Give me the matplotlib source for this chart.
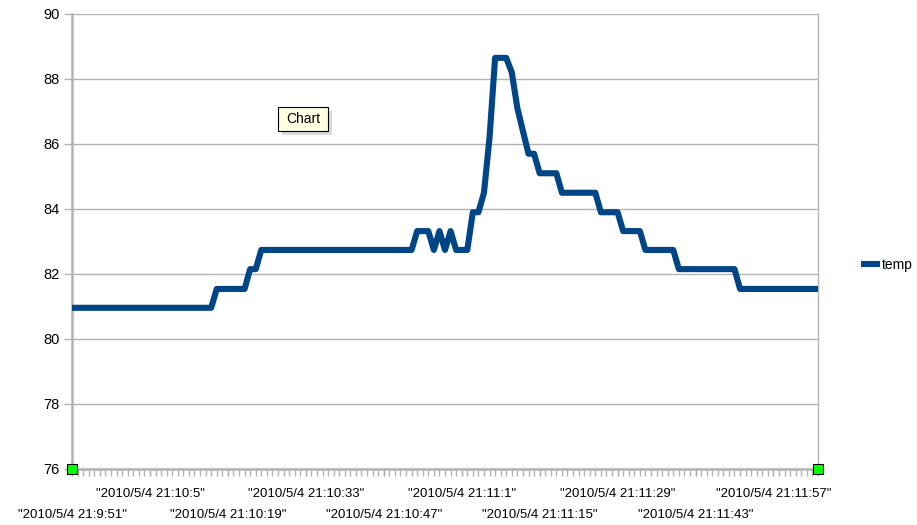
import matplotlib
matplotlib.use("Agg")
import matplotlib.pyplot as plt
import matplotlib.patches as patches

# one reading per second, starting 21:9:51
temp = ([80.96] * 26 + [81.54] * 6 + [82.15] * 2 + [82.74] * 28 +
        [83.32] * 3 + [82.74, 83.32, 82.74, 83.32] + [82.74] * 3 +
        [83.9] * 2 + [84.5, 86.2] + [88.65] * 3 + [88.2, 87.1, 86.4] +
        [85.7] * 2 + [85.1] * 4 + [84.5] * 7 + [83.9] * 4 +
        [83.32] * 4 + [82.74] * 6 + [82.15] * 11 + [81.54] * 15)

tickLabels = ['"2010/5/4 21:9:51"', '"2010/5/4 21:10:5"', '"2010/5/4 21:10:19"',
              '"2010/5/4 21:10:33"', '"2010/5/4 21:10:47"', '"2010/5/4 21:11:1"',
              '"2010/5/4 21:11:15"', '"2010/5/4 21:11:29"', '"2010/5/4 21:11:43"',
              '"2010/5/4 21:11:57"']
labelStep = 14
yTicks = [76, 78, 80, 82, 84, 86, 88, 90]

plt.rcParams['font.family'] = ['Liberation Sans', 'DejaVu Sans']
gridColor = '#b3b3b3'

fig = plt.figure(figsize=(9.17, 5.25), dpi=100)
ax = fig.add_axes([72 / 917, 1 - 469 / 525, (818 - 72) / 917, (469 - 14) / 525])

xs = list(range(len(temp)))
ax.plot(xs, temp, color='#004586', lw=4.4, solid_joinstyle='round',
        solid_capstyle='butt', label='temp', zorder=3)

ax.set_xlim(0, len(temp) - 1)
ax.set_ylim(76, 90)
ax.set_yticks(yTicks)
ax.set_yticklabels([str(v) for v in yTicks])
ax.grid(axis='y', color=gridColor, lw=1)
ax.set_axisbelow(True)

# labels every 14 readings, staggered on two rows:
# major ticks carry the lower row, minor ticks the upper row
labelPos = xs[::labelStep][:len(tickLabels)]
ax.set_xticks(labelPos[::2])
ax.set_xticklabels(tickLabels[::2])
ax.set_xticks(labelPos[1::2], minor=True)
ax.set_xticklabels(tickLabels[1::2], minor=True)
ax.tick_params(axis='x', which='major', length=5, width=1, color=gridColor,
               labelsize=9.5, pad=24)
ax.tick_params(axis='x', which='minor', length=5, width=1, color=gridColor,
               labelsize=9.5, pad=8.5)
ax.tick_params(axis='y', length=6, width=1, color=gridColor, labelsize=10.5, pad=3)

# a small tick under every reading
catAxis = ax.secondary_xaxis('bottom')
catAxis.set_xticks(xs)
catAxis.set_xticklabels([])
catAxis.tick_params(length=5, width=1, color=gridColor)
catAxis.spines['bottom'].set_visible(False)

for side in ['left', 'bottom']:
    ax.spines[side].set_color(gridColor)
    ax.spines[side].set_linewidth(1.8)
ax.spines['right'].set_color(gridColor)
ax.spines['right'].set_linewidth(1)
ax.spines['top'].set_visible(False)

# selection handles at both ends of the x axis
ax.scatter([0, 1], [0, 0], transform=ax.transAxes, marker='s', s=55,
           facecolor='#00ff00', edgecolor='black', linewidth=0.8,
           clip_on=False, zorder=5)

ax.legend(loc='center left', bbox_to_anchor=(861 / 917, 1 - 265 / 525),
          bbox_transform=fig.transFigure, frameon=False, fontsize=10,
          handlelength=1.4, handletextpad=0.1, borderpad=0, borderaxespad=0)

# tooltip
fig.patches.append(patches.Rectangle((282 / 917, 1 - 135 / 525), 50 / 917, 24 / 525,
                                     transform=fig.transFigure, facecolor='#999999',
                                     alpha=0.35, edgecolor='none'))
fig.patches.append(patches.Rectangle((278 / 917, 1 - 131 / 525), 50 / 917, 24 / 525,
                                     transform=fig.transFigure, facecolor='#ffffe1',
                                     edgecolor='black', lw=0.8))
fig.text(303 / 917, 1 - 119 / 525, 'Chart', ha='center', va='center', fontsize=10)

fig.savefig('out.png', dpi=100)
